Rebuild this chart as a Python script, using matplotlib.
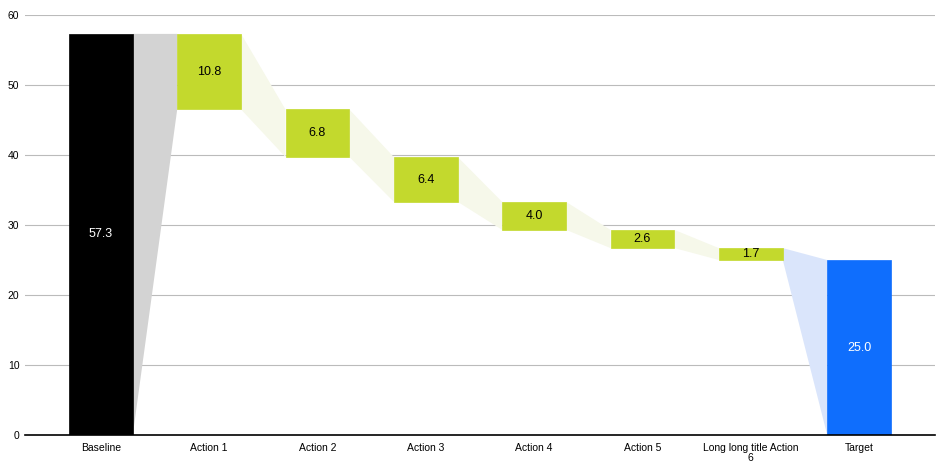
import matplotlib.pyplot as plt
import numpy as np

plt.rcParams['font.family'] = ['Liberation Sans', 'DejaVu Sans']

categories = ['Baseline', 'Action 1', 'Action 2', 'Action 3', 'Action 4',
              'Action 5', 'Long long title Action\n6', 'Target']
baseline = 57.3
actions = [10.8, 6.8, 6.4, 4.0, 2.6, 1.7]
target = 25.0

col_base = '#000000'
col_act = '#C3D92D'
col_target = '#0F6EFD'
col_conn_base = '#D3D3D3'
col_conn_act = '#F6F8EA'
col_conn_target = '#DAE5FB'

fig = plt.figure(figsize=(9.45, 4.69), dpi=100)
ax = fig.add_axes([25 / 945, 34 / 469, 910 / 945, 420 / 469])

w = 0.59
x = np.arange(len(categories))

# bar bottoms / tops
tops = [baseline]
bottoms = [0]
level = baseline
for a in actions:
    tops.append(level)
    bottoms.append(level - a)
    level -= a
tops.append(target)
bottoms.append(0)
heights = [t - b for t, b in zip(tops, bottoms)]
colors = [col_base] + [col_act] * len(actions) + [col_target]

# connectors
for i in range(len(categories) - 1):
    x0 = x[i] + w / 2
    x1 = x[i + 1] - w / 2
    if i == 0:
        c = col_conn_base
    elif i == len(categories) - 2:
        c = col_conn_target
    else:
        c = col_conn_act
    ax.fill([x0, x1, x1, x0], [bottoms[i], bottoms[i + 1], tops[i + 1], tops[i]],
            color=c, lw=0, zorder=1)

ax.bar(x, heights, bottom=bottoms, width=w, color=colors, zorder=2,
       edgecolor=colors, linewidth=0.5)

labels = [baseline] + actions + [target]
for i, v in enumerate(labels):
    tc = 'white' if i in (0, len(labels) - 1) else 'black'
    ax.text(x[i], bottoms[i] + heights[i] / 2, f'{v:.1f}', ha='center', va='center',
            color=tc, fontsize=9, zorder=3)

ax.set_xlim(-0.70, 7.70)
ax.set_ylim(0, 60)
ax.set_yticks(range(0, 61, 10))
ax.set_xticks(x)
ax.set_xticklabels(categories, fontsize=7.5, linespacing=0.95)
ax.tick_params(axis='y', labelsize=7.5, length=0, pad=4)
ax.tick_params(axis='x', length=0, pad=6)
ax.grid(axis='y', color='#BBBBBB', lw=0.8, zorder=0)
ax.set_axisbelow(True)
for s in ['top', 'right', 'left']:
    ax.spines[s].set_visible(False)
ax.spines['bottom'].set_color('black')
ax.spines['bottom'].set_linewidth(1.2)
ax.spines['bottom'].set_zorder(4)

fig.savefig('out.png', dpi=100)
